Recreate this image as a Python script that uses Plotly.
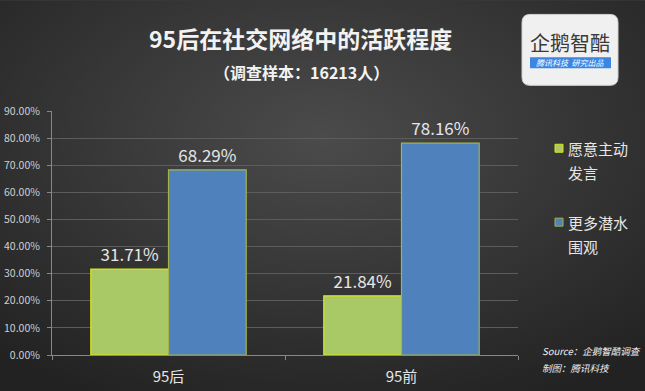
import base64
import plotly.graph_objects as go

categories = ["95后", "95前"]
series_names = ["愿意主动发言", "更多潜水围观"]
legend_lines = [["愿意主动", "发言"], ["更多潜水", "围观"]]
speak_values = [0.3171, 0.2184]
lurk_values = [0.6829, 0.7816]
y_ticks = [0.0, 0.1, 0.2, 0.3, 0.4, 0.5, 0.6, 0.7, 0.8, 0.9]
y_tick_labels = ["0.00%", "10.00%", "20.00%", "30.00%", "40.00%", "50.00%", "60.00%", "70.00%", "80.00%", "90.00%"]
title_text = "95后在社交网络中的活跃程度"
subtitle_text = "（调查样本：16213人）"
source_lines = ["Source：企鹅智酷调查", "制图：腾讯科技"]

W, H = 645, 391
L, R, T, B = 52, 518, 110.7, 355
FONT = "Noto Sans CJK SC"


def px(x):
    return (x - L) / (R - L)


def py(y):
    return (B - y) / (B - T)


svg = f'''<svg xmlns="http://www.w3.org/2000/svg" width="{W}" height="{H}">
<defs><radialGradient id="g" cx="50%" cy="35%" r="75%">
<stop offset="0%" stop-color="#4b4b4b"/><stop offset="100%" stop-color="#222222"/>
</radialGradient></defs><rect width="{W}" height="{H}" fill="url(#g)"/></svg>'''
bg_uri = "data:image/svg+xml;base64," + base64.b64encode(svg.encode()).decode()

fig = go.Figure()
fig.add_trace(go.Bar(
    x=categories, y=speak_values, name=series_names[0],
    marker=dict(color="#a9c967", line=dict(color="#d8e61a", width=1.2)),
    text=[f"{v*100:.2f}%" for v in speak_values], textposition="outside",
    textfont=dict(size=17, color="#e6e6e6", family=FONT), cliponaxis=False,
    showlegend=False,
))
fig.add_trace(go.Bar(
    x=categories, y=lurk_values, name=series_names[1],
    marker=dict(color="#4f81bd", line=dict(color="#a3b34a", width=1.2)),
    text=[f"{v*100:.2f}%" for v in lurk_values], textposition="outside",
    textfont=dict(size=17, color="#e6e6e6", family=FONT), cliponaxis=False,
    showlegend=False,
))

annotations = [
    dict(text=f"<b>{title_text}</b>", x=px(300), y=py(38), xref="paper", yref="paper",
         showarrow=False, font=dict(size=23, color="#f2f2f2", family=FONT), xanchor="center", yanchor="middle"),
    dict(text=f"<b>{subtitle_text}</b>", x=px(301), y=py(72), xref="paper", yref="paper",
         showarrow=False, font=dict(size=16, color="#f2f2f2", family=FONT), xanchor="center", yanchor="middle"),
]
shapes = []

# legend (manual)
legend_colors = [("#a9c967", "#d8e61a"), ("#4f81bd", "#a3b34a")]
for i, (lines, (fc, lc)) in enumerate(zip(legend_lines, legend_colors)):
    y0 = 148 + i * 74
    shapes.append(dict(type="rect", xref="paper", yref="paper",
                       x0=px(555), x1=px(563), y0=py(y0 - 4), y1=py(y0 + 4),
                       fillcolor=fc, line=dict(color=lc, width=1)))
    for j, t in enumerate(lines):
        annotations.append(dict(text=t, x=px(566), y=py(y0 + j * 24), xref="paper", yref="paper",
                                showarrow=False, xanchor="left", yanchor="middle",
                                font=dict(size=15, color="#e6e6e6", family=FONT)))

# source
for j, t in enumerate(source_lines):
    annotations.append(dict(text=f"<i>{t}</i>", x=px(540), y=py(351 + j * 17), xref="paper", yref="paper",
                            showarrow=False, xanchor="left", yanchor="middle",
                            font=dict(size=9.5, color="#f0f0f0", family=FONT)))

# logo
x0l, x1l, y0l, y1l, r = 522, 618, 14, 85, 8
path = (f"M {px(x0l+r)} {py(y0l)} L {px(x1l-r)} {py(y0l)} Q {px(x1l)} {py(y0l)} {px(x1l)} {py(y0l+r)} "
        f"L {px(x1l)} {py(y1l-r)} Q {px(x1l)} {py(y1l)} {px(x1l-r)} {py(y1l)} "
        f"L {px(x0l+r)} {py(y1l)} Q {px(x0l)} {py(y1l)} {px(x0l)} {py(y1l-r)} "
        f"L {px(x0l)} {py(y0l+r)} Q {px(x0l)} {py(y0l)} {px(x0l+r)} {py(y0l)} Z")
shapes.append(dict(type="path", xref="paper", yref="paper", path=path,
                   fillcolor="#f0f0f0", line=dict(color="#d0d0d0", width=1)))
shapes.append(dict(type="rect", xref="paper", yref="paper",
                   x0=px(530), x1=px(611), y0=py(57), y1=py(68),
                   fillcolor="#3b86e3", line=dict(width=0)))
annotations.append(dict(text="企鹅智酷", x=px(570), y=py(42), xref="paper", yref="paper",
                        showarrow=False, xanchor="center", yanchor="middle",
                        font=dict(size=20, color="#3a3a3a", family=FONT)))
annotations.append(dict(text="<i>腾讯科技  研究出品</i>", x=px(570.5), y=py(62.5), xref="paper", yref="paper",
                        showarrow=False, xanchor="center", yanchor="middle",
                        font=dict(size=8, color="#ffffff", family=FONT)))

fig.update_layout(
    width=W, height=H,
    margin=dict(l=L, r=W - R, t=T, b=H - B, pad=0, autoexpand=False),
    paper_bgcolor="#383838", plot_bgcolor="rgba(0,0,0,0)",
    barmode="group", bargap=0.333, bargroupgap=0,
    font=dict(family=FONT, color="#d9d9d9"),
    annotations=annotations, shapes=shapes,
    images=[dict(source=bg_uri, xref="paper", yref="paper", x=px(0), y=py(0),
                 sizex=W / (R - L), sizey=H / (B - T), xanchor="left", yanchor="top",
                 sizing="stretch", layer="below")],
    xaxis=dict(showgrid=False, showline=True, linecolor="#888888", linewidth=1,
               ticks="outside", tickson="boundaries", ticklen=4, tickcolor="#888888",
               ticklabelstandoff=8, automargin=False,
               tickfont=dict(size=15, color="#e6e6e6", family=FONT), fixedrange=True),
    yaxis=dict(range=[0, 0.9], tickvals=y_ticks, ticktext=y_tick_labels,
               showgrid=True, gridcolor="#5c5c5c", gridwidth=1,
               showline=True, linecolor="#888888", linewidth=1, zeroline=False,
               ticks="outside", ticklen=4, tickcolor="#888888", ticklabelstandoff=5,
               automargin=False,
               tickfont=dict(size=10.5, color="#d0d0d0", family=FONT), fixedrange=True),
)

fig.write_html("out.html", config={"displayModeBar": False},
               post_script="document.body.style.margin='0';document.body.style.overflow='hidden';")
